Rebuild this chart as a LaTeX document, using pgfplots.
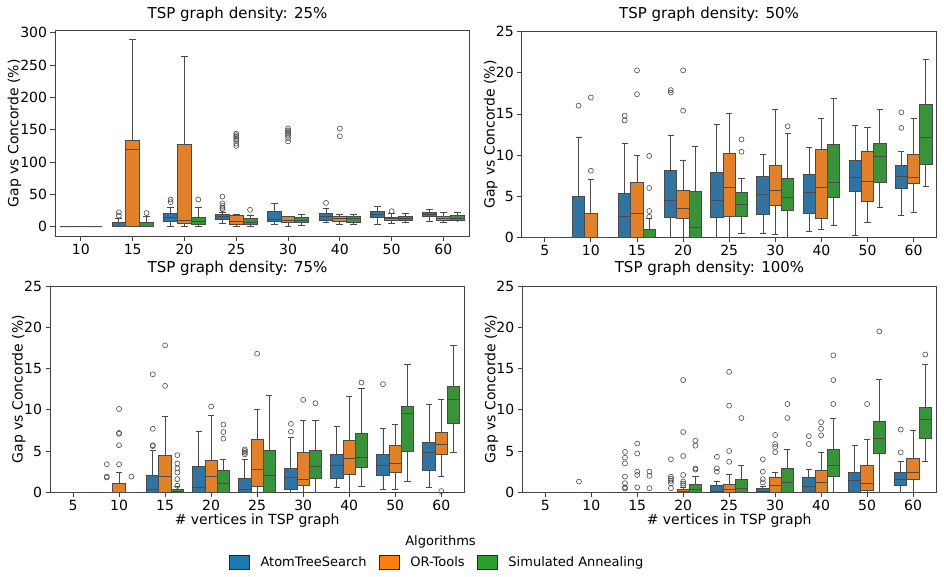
\documentclass[border=0pt]{standalone}
\usepackage{fontspec}
\setmainfont{DejaVu Sans}
\usepackage{pgfplots}
\pgfplotsset{compat=1.18}
\usepgfplotslibrary{statistics}
\definecolor{cB}{HTML}{3274A1}
\definecolor{cO}{HTML}{E1812C}
\definecolor{cG}{HTML}{3A923A}
\definecolor{lB}{HTML}{1F77B4}
\definecolor{lO}{HTML}{FF7F0E}
\definecolor{lG}{HTML}{2CA02C}
\definecolor{lc}{HTML}{4A4A4A}
\newcommand{\fs}[1]{\fontsize{#1bp}{#1bp}\selectfont}
\newcommand{\bxp}[8]{\addplot[draw=lc, line width=0.9bp, fill=#7, mark=o, mark size=2.5bp,
  mark options={draw=lc, fill=none, line width=0.6bp},
  boxplot prepared={draw direction=y, draw position=#1, lower whisker=#2, lower quartile=#3, median=#4,
   upper quartile=#5, upper whisker=#6, box extend=0.2667, whisker extend=0.1333,
   every box/.style={draw=lc, fill=#7, line width=0.9bp},
   every whisker/.style={draw=lc, line width=0.9bp},
   every median/.style={draw=lc, line width=0.9bp}}] coordinates {#8};}
\newcommand{\bB}[7]{\bxp{#1-0.2667}{#2}{#3}{#4}{#5}{#6}{cB}{#7}}
\newcommand{\bO}[7]{\bxp{#1}{#2}{#3}{#4}{#5}{#6}{cO}{#7}}
\newcommand{\bG}[7]{\bxp{#1+0.2667}{#2}{#3}{#4}{#5}{#6}{cG}{#7}}
\pgfplotsset{
  panel/.style={scale only axis, anchor=south west,
    axis line style={black!75, line width=0.8bp},
    tick align=outside, major tick length=4.5bp,
    tick style={black!75, line width=0.8bp},
    xtick pos=bottom, ytick pos=left,
    tick label style={font=\fs{14}},
    /pgf/number format/assume math mode=true,
    ylabel={Gap vs Concorde (\%)},
    xtick={0,...,8},
    xmin=-0.5, xmax=8.5, ymin=0, ymax=25, ytick={0,5,...,25},
  },
}
\begin{document}
\begin{tikzpicture}
\useasboundingbox (0,0) rectangle (944bp,-577bp);
% ---------------- 25% ----------------
\begin{axis}[panel, at={(55bp,-236.3bp)}, width=414.3bp, height=206bp,
  xmin=-0.5, xmax=7.5, xtick={0,...,7}, xticklabels={10,15,20,25,30,40,50,60},
  ymin=-15, ymax=304, ytick={0,50,...,300},
  every axis y label/.style={at={(axis description cs:-0.0886,0.5)}, rotate=90, anchor=base, font=\fs{14}}]
\bB{0}{0}{0}{0}{0}{0}{}
\bO{0}{0}{0}{0}{0}{0}{}
\bG{0}{0}{0}{0}{0}{0}{}
\bB{1}{0}{0}{1}{6.7}{12}{(0,17) (0,22)}
\bO{1}{0}{1}{119}{134}{290}{}
\bG{1}{0}{0}{1}{6.2}{15}{(0,21)}
\bB{2}{0}{7.7}{14}{20}{29}{(0,38) (0,42)}
\bO{2}{0}{4.6}{8.8}{127.5}{264}{}
\bG{2}{0}{3}{7.7}{14.5}{29.4}{(0,42)}
\bB{3}{5}{11.4}{16}{18.6}{21.7}{(0,27) (0,29) (0,32) (0,36) (0,46.5)}
\bO{3}{0}{3.6}{7.7}{17.6}{18.6}{(0,125) (0,128.5) (0,133) (0,136) (0,139) (0,141.5) (0,144)}
\bG{3}{0}{3.6}{7.2}{11.9}{18}{(0,26)}
\bB{4}{3.6}{8.3}{10.8}{23.7}{36}{}
\bO{4}{0}{5.7}{8.8}{15}{16}{(0,132) (0,137) (0,141) (0,144) (0,146.6) (0,149) (0,152)}
\bG{4}{1.5}{6.2}{9.3}{14.5}{18.6}{}
\bB{5}{5.7}{9.8}{15}{20}{28.4}{(0,36.7)}
\bO{5}{2.6}{7.7}{11.9}{15}{18.6}{(0,140) (0,152)}
\bG{5}{4.1}{7.2}{11.9}{15}{19}{}
\bB{6}{3.6}{14}{18.6}{23}{30.5}{}
\bO{6}{4.6}{9.3}{11.9}{14.5}{20}{(0,24)}
\bG{6}{6.2}{9.8}{12.4}{15.5}{20.6}{}
\bB{7}{7.7}{15.5}{19}{22}{27}{}
\bO{7}{6.2}{8.8}{11.9}{15.5}{22}{}
\bG{7}{8.8}{9.3}{13.4}{17.6}{21.7}{}
\end{axis}
% ---------------- 50% ----------------
\begin{axis}[panel, at={(521.7bp,-237.3bp)}, width=415bp, height=205.6bp,
  xticklabels={5,10,15,20,25,30,40,50,60},
  every axis y label/.style={at={(axis description cs:-0.065,0.5)}, rotate=90, anchor=base, font=\fs{14}}]
\bB{0}{0}{0}{0}{0}{0}{}
\bO{0}{0}{0}{0}{0}{0}{}
\bG{0}{0}{0}{0}{0}{0}{}
\bB{1}{0}{0}{0}{4.94}{12.2}{(0,16.0)}
\bO{1}{0}{0}{0}{2.9}{7.0}{(0,8.1) (0,17.0)}
\bG{1}{0}{0}{0}{0}{0}{}
\bB{2}{0}{0}{2.5}{5.3}{11.4}{(0,14.2) (0,14.8)}
\bO{2}{0}{0}{2.9}{6.7}{10.0}{(0,17.4) (0,20.3)}
\bG{2}{0}{0}{0}{0.9}{2.3}{(0,2.5) (0,3.2) (0,6.0) (0,9.9)}
\bB{3}{0}{2.4}{4.5}{8.1}{12.4}{(0,17.6) (0,17.9)}
\bO{3}{0}{2.3}{3.5}{5.75}{9.4}{(0,15.4) (0,20.3)}
\bG{3}{0}{0}{1.2}{5.6}{11.1}{}
\bB{4}{0}{2.4}{4.5}{7.9}{13.7}{}
\bO{4}{0}{2.5}{6.1}{10.2}{15.0}{}
\bG{4}{0.5}{2.5}{4.0}{5.4}{7.1}{(0,10.4) (0,11.9)}
\bB{5}{0.5}{2.8}{5.2}{7.4}{10.1}{}
\bO{5}{0.4}{3.9}{5.7}{8.7}{15.5}{}
\bG{5}{0}{3.3}{4.9}{7.1}{12.6}{(0,13.5)}
\bB{6}{0.7}{2.9}{5.5}{7.7}{10.9}{}
\bO{6}{1.0}{2.3}{6.1}{10.7}{14.4}{}
\bG{6}{1.5}{4.9}{6.7}{11.3}{16.9}{}
\bB{7}{0.25}{5.6}{7.3}{9.4}{13.6}{}
\bO{7}{1.8}{4.3}{6.8}{10.4}{13.3}{}
\bG{7}{3.6}{6.7}{9.8}{11.4}{15.5}{}
\bB{8}{2.7}{5.9}{7.4}{8.7}{10.4}{(0,13.3) (0,15.2)}
\bO{8}{3.0}{6.5}{7.3}{10.1}{14.5}{}
\bG{8}{6.2}{8.9}{12.2}{16.2}{21.6}{}
\end{axis}
% ---------------- 75% ----------------
\begin{axis}[panel, at={(50bp,-492.3bp)}, width=414.3bp, height=206.3bp,
  xticklabels={5,10,15,20,25,30,40,50,60},
  xlabel={\# vertices in TSP graph},
  every axis x label/.style={at={(axis description cs:0.5,-0.1537)}, anchor=base, font=\fs{14}},
  every axis y label/.style={at={(axis description cs:-0.0659,0.5)}, rotate=90, anchor=base, font=\fs{14}}]
\bB{0}{0}{0}{0}{0}{0}{}
\bO{0}{0}{0}{0}{0}{0}{}
\bG{0}{0}{0}{0}{0}{0}{}
\bB{1}{0}{0}{0}{0}{0}{(0,1.8) (0,1.9) (0,3.4)}
\bO{1}{0}{0}{0}{1.1}{2.4}{(0,3.4) (0,5.7) (0,7.1) (0,7.2) (0,10.1)}
\bG{1}{0}{0}{0}{0}{0}{(0,1.9)}
\bB{2}{0}{0}{0.3}{2.1}{5.1}{(0,5.6) (0,5.7) (0,7.7) (0,14.3)}
\bO{2}{0}{0}{1.9}{4.5}{9.2}{(0,12.9) (0,17.8)}
\bG{2}{0}{0}{0.1}{0.3}{0.7}{(0,0.8) (0,1.6) (0,2.4) (0,2.9) (0,3.5) (0,4.5)}
\bB{3}{0}{0}{0.6}{3.1}{7.35}{}
\bO{3}{0}{0}{1.9}{3.9}{9.3}{(0,10.4)}
\bG{3}{0}{0}{1.1}{2.6}{4.0}{(0,6.5) (0,7.3) (0,8.2)}
\bB{4}{0}{0}{0.4}{1.65}{4.0}{(0,4.6) (0,4.8) (0,5.0) (0,5.2)}
\bO{4}{0}{0.75}{2.8}{6.4}{10.0}{(0,16.8)}
\bG{4}{0}{0}{2.0}{5.05}{11.7}{}
\bB{5}{0}{0.3}{1.8}{2.95}{6.65}{(0,7.35) (0,8.3)}
\bO{5}{0}{0.85}{1.6}{4.85}{8.75}{(0,11.2)}
\bG{5}{0}{1.65}{3.15}{5.1}{8.75}{(0,10.8)}
\bB{6}{0.6}{1.65}{3.3}{4.6}{8.0}{}
\bO{6}{0}{2.2}{4.1}{6.3}{11.6}{}
\bG{6}{0.75}{3.0}{4.2}{7.1}{12.6}{(0,13.3)}
\bB{7}{0.4}{2.05}{3.2}{4.6}{7.7}{(0,13.1)}
\bO{7}{0.3}{2.4}{3.55}{5.7}{8.2}{}
\bG{7}{1.35}{4.95}{9.5}{10.4}{15.5}{}
\bB{8}{0.6}{2.7}{4.85}{6.0}{10.6}{}
\bO{8}{1.9}{4.6}{5.8}{7.3}{11.2}{(0,0.15)}
\bG{8}{4.85}{8.3}{11.2}{12.85}{17.8}{}
\end{axis}
% ---------------- 100% ----------------
\begin{axis}[panel, at={(522.3bp,-492.3bp)}, width=413.7bp, height=206.3bp,
  xticklabels={5,10,15,20,25,30,40,50,60},
  xlabel={\# vertices in TSP graph},
  every axis x label/.style={at={(axis description cs:0.5,-0.1537)}, anchor=base, font=\fs{14}},
  every axis y label/.style={at={(axis description cs:-0.065,0.5)}, rotate=90, anchor=base, font=\fs{14}}]
\bB{0}{0}{0}{0}{0}{0}{}
\bO{0}{0}{0}{0}{0}{0}{}
\bG{0}{0}{0}{0}{0}{0}{}
\bB{1}{0}{0}{0}{0}{0}{(0,1.3)}
\bO{1}{0}{0}{0}{0}{0}{}
\bG{1}{0}{0}{0}{0}{0}{}
\bB{2}{0}{0}{0}{0}{0}{(0,0.45) (0,0.6) (0,1.1) (0,1.9) (0,3.5) (0,4.2) (0,4.9)}
\bO{2}{0}{0}{0}{0}{0}{(0,0.6) (0,2.1) (0,2.5) (0,4.7) (0,5.9)}
\bG{2}{0}{0}{0}{0}{0}{(0,0.5) (0,2.0) (0,2.5)}
\bB{3}{0}{0}{0}{0}{0}{(0,0.5) (0,1.1) (0,1.4) (0,1.65) (0,1.9) (0,4.0)}
\bO{3}{0}{0}{0.1}{0.35}{0.6}{(0,0.85) (0,1.05) (0,1.3) (0,2.1) (0,4.4) (0,7.3) (0,13.6)}
\bG{3}{0}{0}{0.3}{1.0}{1.9}{(0,2.75) (0,2.9) (0,5.65) (0,6.25)}
\bB{4}{0}{0}{0.1}{0.8}{1.3}{(0,2.5) (0,2.9) (0,4.3)}
\bO{4}{0}{0}{0.3}{0.95}{2.15}{(0,3.7) (0,5.0) (0,10.5) (0,14.6)}
\bG{4}{0}{0}{0.5}{1.6}{3.2}{(0,9.0)}
\bB{5}{0}{0}{0.1}{0.5}{0.65}{(0,1.2) (0,1.6) (0,2.5) (0,4.0)}
\bO{5}{0}{0}{0.85}{1.75}{2.4}{(0,4.85) (0,5.5) (0,5.85) (0,6.95)}
\bG{5}{0}{0}{1.2}{2.85}{5.2}{(0,9.0) (0,10.7)}
\bB{6}{0}{0}{0.65}{1.75}{2.75}{(0,5.85) (0,6.8)}
\bO{6}{0}{0}{1.2}{2.65}{4.85}{(0,6.9) (0,7.7) (0,8.5)}
\bG{6}{0}{1.95}{3.25}{5.2}{8.9}{(0,10.7) (0,13.6) (0,16.6)}
\bB{7}{0}{0}{1.45}{2.45}{5.7}{}
\bO{7}{0}{0.25}{1.1}{3.3}{6.4}{(0,10.7)}
\bG{7}{0}{4.7}{6.55}{8.6}{13.7}{(0,19.5)}
\bB{8}{0}{0.8}{1.6}{2.4}{3.75}{(0,4.85) (0,7.6)}
\bO{8}{0}{1.5}{2.4}{4.05}{7.55}{}
\bG{8}{3.75}{6.5}{8.8}{10.3}{15.5}{(0,16.7)}
\end{axis}
% ---------------- legend ----------------
\begin{axis}[hide axis, scale only axis, at={(0bp,-577bp)}, anchor=south west,
  width=944bp, height=577bp, xmin=0, xmax=1, ymin=0, ymax=1,
  legend columns=3,
  legend style={at={(0.24258,0.02548)}, anchor=west, draw=none, fill=none,
    inner sep=0pt, font=\fs{13}, nodes={inner sep=0pt},
    /tikz/every odd column/.append style={column sep=10.7bp},
    /tikz/every even column/.append style={column sep=12.5bp}},
  legend image code/.code={\draw[#1, line width=0.6bp] (0bp,-7bp) rectangle (20bp,7bp);}]
\addlegendimage{fill=lB, draw=black!85}
\addlegendentry{AtomTreeSearch}
\addlegendimage{fill=lO, draw=black!85}
\addlegendentry{OR-Tools}
\addlegendimage{fill=lG, draw=black!85}
\addlegendentry{Simulated Annealing}
\end{axis}
\node[anchor=base, font=\fs{15}] at (237.5bp,-18.3bp) {TSP graph density: 25\%};
\node[anchor=base, font=\fs{15}] at (709bp,-18.3bp) {TSP graph density: 50\%};
\node[anchor=base, font=\fs{15}] at (237.5bp,-272.7bp) {TSP graph density: 75\%};
\node[anchor=base, font=\fs{15}] at (709.5bp,-272.7bp) {TSP graph density: 100\%};
\node[anchor=base, font=\fs{13}] at (440.5bp,-545.5bp) {Algorithms};
\end{tikzpicture}
\end{document}
